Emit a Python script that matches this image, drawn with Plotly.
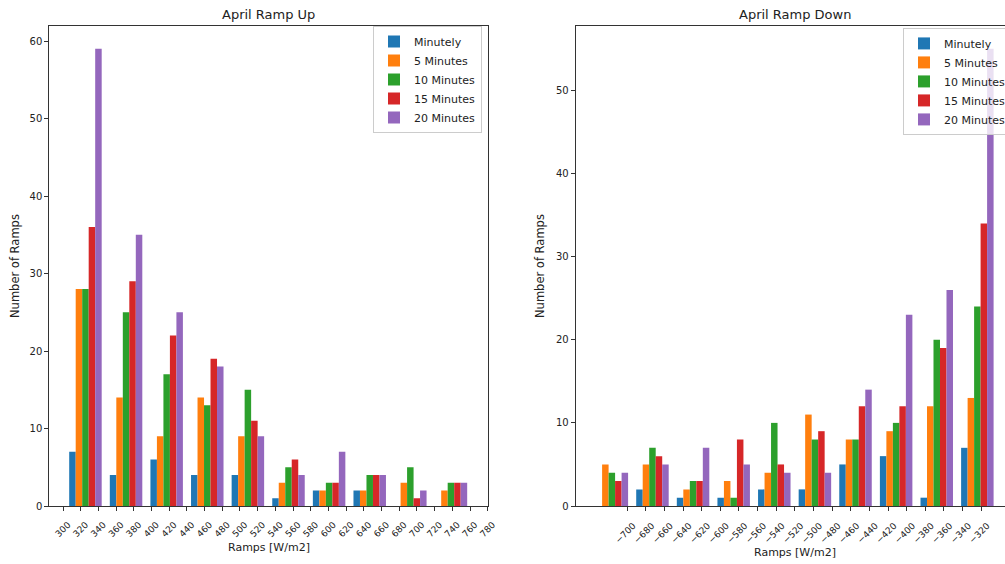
import plotly.graph_objects as go

# Histogram bin edges (W/m2)
up_edges = [302.4, 348.3, 394.2, 440.1, 486.0, 531.9, 577.8, 623.7, 669.6, 715.5, 761.4]
down_edges = [-738.3, -694.7, -651.1, -607.5, -563.9, -520.3, -476.7, -433.1, -389.5, -345.9, -302.3]

series_names = ["Minutely", "5 Minutes", "10 Minutes", "15 Minutes", "20 Minutes"]
colors = ["#1f77b4", "#ff7f0e", "#2ca02c", "#d62728", "#9467bd"]

# Ramp-up counts per bin, one list per aggregation interval
up_minutely = [7, 4, 6, 4, 4, 1, 2, 2, 0, 0]
up_5min = [28, 14, 9, 14, 9, 3, 2, 2, 3, 2]
up_10min = [28, 25, 17, 13, 15, 5, 3, 4, 5, 3]
up_15min = [36, 29, 22, 19, 11, 6, 3, 4, 1, 3]
up_20min = [59, 35, 25, 18, 9, 4, 7, 4, 2, 3]

# Ramp-down counts per bin
down_minutely = [0, 2, 1, 1, 2, 2, 5, 6, 1, 7]
down_5min = [5, 5, 2, 3, 4, 11, 8, 9, 12, 13]
down_10min = [4, 7, 3, 1, 10, 8, 8, 10, 20, 24]
down_15min = [3, 6, 3, 8, 5, 9, 12, 12, 19, 34]
down_20min = [4, 5, 7, 5, 4, 4, 14, 23, 26, 55]

up_ticks = list(range(300, 781, 20))
down_ticks = list(range(-700, -319, 20))

W, H = 1005, 564
ML, MR, MT, MB = 0, 0, 26, 58
FONT = "DejaVu Sans"
TXT = "#222222"


def centers(edges):
    return [(a + b) / 2 for a, b in zip(edges[:-1], edges[1:])]


fig = go.Figure()

up_series = [up_minutely, up_5min, up_10min, up_15min, up_20min]
down_series = [down_minutely, down_5min, down_10min, down_15min, down_20min]

for name, col, vals in zip(series_names, colors, up_series):
    fig.add_trace(go.Bar(x=centers(up_edges), y=vals, name=name,
                         marker=dict(color=col, line=dict(width=0)),
                         xaxis="x", yaxis="y", legend="legend",
                         offsetgroup=name))

for name, col, vals in zip(series_names, colors, down_series):
    fig.add_trace(go.Bar(x=centers(down_edges), y=vals, name=name,
                         marker=dict(color=col, line=dict(width=0)),
                         xaxis="x2", yaxis="y2", legend="legend2",
                         offsetgroup=name))

# data span of bars plus 5% padding, as the axes autoscale would do
up_lo = up_edges[0] + 0.1 * (up_edges[1] - up_edges[0])
up_hi = up_edges[-1] - 0.1 * (up_edges[1] - up_edges[0])
up_pad = 0.05 * (up_hi - up_lo)
up_range = [min(up_lo - up_pad, up_ticks[0]), max(up_hi + up_pad, up_ticks[-1])]

dn_lo = down_edges[0] + 0.1 * (down_edges[1] - down_edges[0])
dn_hi = down_edges[-1] - 0.1 * (down_edges[1] - down_edges[0])
dn_pad = 0.05 * (dn_hi - dn_lo)
dn_left = dn_lo - dn_pad
# right panel runs off the page edge: keep the same scale as a full-width axis
dn_full_right = dn_hi + dn_pad
px_left2, px_right2_full = 575.7, 1013.5
dn_scale = (dn_full_right - dn_left) / (px_right2_full - px_left2)
dn_range = [dn_left, dn_left + (W - px_left2) * dn_scale]

ymax_up = max(max(s) for s in up_series) * 1.05
ymax_dn = max(max(s) for s in down_series) * 1.05

line_common = dict(
    showgrid=False, zeroline=False, showline=True, linecolor="#333333", linewidth=1,
    ticks="outside", ticklen=4, tickwidth=1, tickcolor="#333333",
)
xtick_font = dict(family=FONT, size=9, color=TXT)
ytick_font = dict(family=FONT, size=10, color=TXT)

fig.update_layout(
    width=W, height=H, autosize=False,
    margin=dict(l=ML, r=MR, t=MT, b=MB, autoexpand=False),
    paper_bgcolor="white", plot_bgcolor="white",
    barmode="group", bargap=0.2, bargroupgap=0,
    font=dict(family=FONT, size=11, color=TXT),
    xaxis=dict(domain=[49.3 / W, 487.7 / W], range=up_range, tickmode="array",
               tickvals=up_ticks, tickangle=-45, ticklabelshift=5, ticklabelstandoff=5,
               tickfont=xtick_font, mirror=True, anchor="y", **line_common),
    yaxis=dict(domain=[0, 1], range=[0, ymax_up], tickvals=[0, 10, 20, 30, 40, 50, 60],
               tickfont=ytick_font, mirror=True, anchor="x", **line_common),
    xaxis2=dict(domain=[px_left2 / W, 1.0], range=dn_range, tickmode="array",
                tickvals=down_ticks, tickangle=-45, ticklabelshift=6, ticklabelstandoff=6,
                tickfont=xtick_font, mirror=True, anchor="y2", **line_common),
    yaxis2=dict(domain=[0, 1], range=[0, ymax_dn], tickvals=[0, 10, 20, 30, 40, 50],
                tickfont=ytick_font, mirror=False, anchor="x2", **line_common),
    legend=dict(x=373 / W, y=1.0, xanchor="left", yanchor="top",
                bgcolor="rgba(255,255,255,0.8)", bordercolor="#cccccc", borderwidth=1,
                font=dict(family=FONT, size=11, color=TXT), tracegroupgap=0),
    legend2=dict(x=903 / W, y=0.996, xanchor="left", yanchor="top",
                 bgcolor="rgba(255,255,255,0.8)", bordercolor="#cccccc", borderwidth=1,
                 font=dict(family=FONT, size=11, color=TXT), tracegroupgap=0),
)

plot_h = H - MT - MB


def py(px_from_top):
    """Convert a pixel row to paper y."""
    return (H - MB - px_from_top) / plot_h


annotations = [
    dict(text="April Ramp Up", x=268.5 / W, y=py(15), size=13),
    dict(text="April Ramp Down", x=794.6 / W, y=py(15), size=13),
    dict(text="Ramps [W/m2]", x=268.5 / W, y=py(547), size=11),
    dict(text="Ramps [W/m2]", x=794.6 / W, y=py(552.5), size=11),
    dict(text="Number of Ramps", x=15 / W, y=0.5, textangle=-90, size=11.5),
    dict(text="Number of Ramps", x=540 / W, y=0.5, textangle=-90, size=11.5),
]
for a in annotations:
    size = a.pop("size")
    fig.add_annotation(xref="paper", yref="paper", showarrow=False,
                       xanchor="center", yanchor="middle",
                       font=dict(family=FONT, size=size, color=TXT), **a)

fig.write_html("out.html")
